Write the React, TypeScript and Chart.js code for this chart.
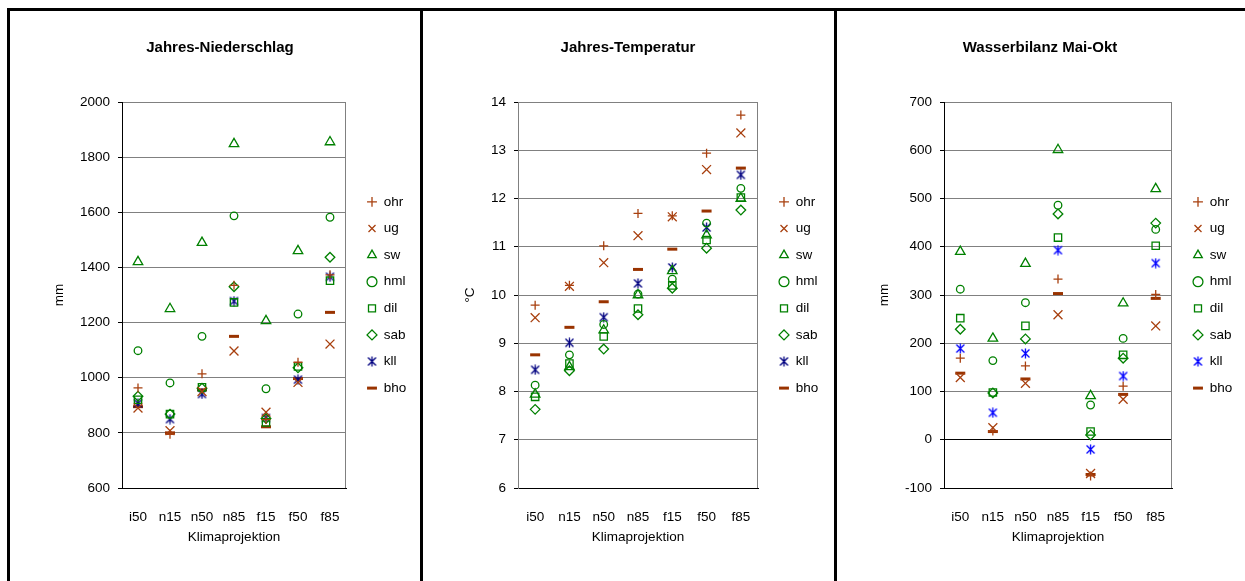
import React, { useEffect, useRef } from 'react';
import { Chart, registerables } from 'chart.js';

Chart.register(...registerables);

// ---------- data ----------
const categories = ['i50', 'n15', 'n50', 'n85', 'f15', 'f50', 'f85'];
const seriesLabels = ['ohr', 'ug', 'sw', 'hml', 'dil', 'sab', 'kll', 'bho'];

// Jahres-Niederschlag (mm)
const precipOhr = [963, 795, 1014, 1335, 848, 1056, 1373];
const precipUg = [890, 808, 950, 1097, 875, 983, 1122];
const precipSw = [1420, 1250, 1490, 1848, 1206, 1460, 1855];
const precipHml = [1098, 981, 1150, 1587, 960, 1231, 1582];
const precipDil = [920, 868, 965, 1273, 838, 1041, 1352];
const precipSab = [933, 868, 962, 1330, 852, 1036, 1437];
const precipKll = [907, 850, 941, 1278, 854, 993, 1366];
const precipBho = [895, 800, 956, 1150, 822, 997, 1237];

// Jahres-Temperatur (°C)
const tempOhr = [9.79, 10.2, 11.02, 11.69, 11.64, 12.94, 13.73];
const tempUg = [9.53, 10.18, 10.67, 11.23, 11.62, 12.6, 13.36];
const tempSw = [7.94, 8.51, 9.27, 10.0, 10.5, 11.24, 12.0];
const tempHml = [8.13, 8.76, 9.39, 10.02, 10.33, 11.49, 12.21];
const tempDil = [7.89, 8.58, 9.14, 9.72, 10.2, 11.14, 12.02];
const tempSab = [7.63, 8.43, 8.88, 9.59, 10.14, 10.97, 11.76];
const tempKll = [8.45, 9.01, 9.54, 10.24, 10.57, 11.4, 12.49];
const tempBho = [8.76, 9.33, 9.86, 10.53, 10.95, 11.74, 12.63];

// Wasserbilanz Mai-Okt (mm)
const waterOhr = [169, 18, 153, 333, -75, 111, 301];
const waterUg = [129, 25, 117, 259, -70, 84, 236];
const waterSw = [390, 210, 365, 601, 91, 283, 520];
const waterHml = [312, 164, 284, 486, 72, 210, 436];
const waterDil = [252, 98, 236, 419, 17, 176, 402];
const waterSab = [229, 97, 209, 468, 10, 169, 449];
const waterKll = [189, 56, 179, 393, -20, 132, 366];
const waterBho = [138, 17, 126, 303, -72, 94, 293];

// axis ranges
const precipAxis = { min: 600, max: 2000, step: 200 };
const tempAxis = { min: 6, max: 14, step: 1 };
const waterAxis = { min: -100, max: 700, step: 100 };

// ---------- styles / layout ----------
const FONT = "'Liberation Sans', Arial, Helvetica, sans-serif";
const TICK_SIZE = 13.5;
const TITLE_SIZE = 15;
const LH = 1.2;
const BROWN = '#A8400F';
const DARK_BROWN = '#993300';
const GREEN = '#008000';
const GRID = '#808080';

const PAGE_W = 1245;
const PAGE_H = 581;
const CANVAS_TOP = 11;
const CANVAS_H = PAGE_H - CANVAS_TOP;
const PLOT_TOP = 102;
const PLOT_BOTTOM = 488;
const TITLE_Y = 48;
const XLABEL_Y = 517;
const XTITLE_Y = 537;
const LEGEND_PAD = 13.1;
const LEGEND_GAP = 21;

Chart.defaults.font.family = FONT;
Chart.defaults.font.size = TICK_SIZE;
Chart.defaults.color = '#000';

type PanelSpec = {
  left: number;
  width: number;
  title: string;
  yTitle: string;
  axis: { min: number; max: number; step: number };
  series: number[][];
  kllColor: string;
  yAxisColor: string;
  plotLeft: number;
  plotRight: number;
  titleCenter: number;
  yTitleCenter: number;
  zeroLine: boolean;
};

const panels: PanelSpec[] = [
  {
    left: 10, width: 410, title: 'Jahres-Niederschlag', yTitle: 'mm', axis: precipAxis,
    series: [precipOhr, precipUg, precipSw, precipHml, precipDil, precipSab, precipKll, precipBho],
    kllColor: '#000080', yAxisColor: '#000', plotLeft: 122, plotRight: 346, titleCenter: 220, yTitleCenter: 59, zeroLine: false,
  },
  {
    left: 423, width: 411, title: 'Jahres-Temperatur', yTitle: '°C', axis: tempAxis,
    series: [tempOhr, tempUg, tempSw, tempHml, tempDil, tempSab, tempKll, tempBho],
    kllColor: '#000080', yAxisColor: '#808080', plotLeft: 518, plotRight: 758, titleCenter: 628, yTitleCenter: 470, zeroLine: false,
  },
  {
    left: 837, width: 408, title: 'Wasserbilanz Mai-Okt', yTitle: 'mm', axis: waterAxis,
    series: [waterOhr, waterUg, waterSw, waterHml, waterDil, waterSab, waterKll, waterBho],
    kllColor: '#0000FF', yAxisColor: '#000', plotLeft: 944, plotRight: 1172, titleCenter: 1040, yTitleCenter: 884, zeroLine: true,
  },
];

function makeAsterisk(color: string): HTMLCanvasElement {
  const c = document.createElement('canvas');
  c.width = 11;
  c.height = 11;
  const g = c.getContext('2d')!;
  g.strokeStyle = color;
  g.lineWidth = 1.3;
  g.beginPath();
  g.moveTo(5.5, 0.5); g.lineTo(5.5, 10.5);
  g.moveTo(1.5, 1.5); g.lineTo(9.5, 9.5);
  g.moveTo(9.5, 1.5); g.lineTo(1.5, 9.5);
  g.stroke();
  return c;
}

function buildConfig(spec: PanelSpec): any {
  const W = spec.width;
  const lhT = TICK_SIZE * LH;
  const lhTitle = TITLE_SIZE * LH;
  const padR = 10;
  const tc = spec.titleCenter - spec.left;
  const plotLeft = spec.plotLeft - spec.left;
  const plotRight = spec.plotRight - spec.left;
  const padL = 2 * tc - (W - padR);
  const legendW = W - padR - plotRight;
  const yWidth = plotLeft - padL;
  const yTitlePad = spec.yTitleCenter - spec.left - padL - lhT / 2;

  const top = PLOT_TOP - CANVAS_TOP;
  const bottom = PLOT_BOTTOM - CANVAS_TOP;
  const titleY = TITLE_Y - CANVAS_TOP;
  const xLabelY = XLABEL_Y - CANVAS_TOP;
  const xTitleY = XTITLE_Y - CANVAS_TOP;
  const xTickPad = xLabelY - bottom - lhT / 2;
  const xTitlePad = xTitleY - lhT / 2 - (bottom + xTickPad + lhT);
  const xHeight = xTitleY + lhT / 2 - bottom;
  const padB = CANVAS_H - bottom - xHeight;

  const styles = [
    { ps: 'cross', r: 4.5, bw: 1.3, c: BROWN },
    { ps: 'crossRot', r: 6.3, bw: 1.3, c: BROWN },
    { ps: 'triangle', r: 5.5, bw: 1.3, c: GREEN },
    { ps: 'circle', r: 3.8, bw: 1.3, c: GREEN },
    { ps: 'rect', r: 5.2, bw: 1.3, c: GREEN },
    { ps: 'rectRot', r: 4.8, bw: 1.3, c: GREEN },
    { ps: makeAsterisk(spec.kllColor), r: 5.5, bw: 1.3, c: spec.kllColor },
    { ps: 'line', r: 5, bw: 3, c: DARK_BROWN },
  ];

  const datasets = spec.series.map((data, i) => ({
    label: seriesLabels[i],
    data,
    showLine: false,
    pointStyle: styles[i].ps,
    pointRadius: styles[i].r,
    pointHoverRadius: styles[i].r,
    pointBorderWidth: styles[i].bw,
    pointBorderColor: styles[i].c,
    pointBackgroundColor: 'rgba(0,0,0,0)',
    borderColor: styles[i].c,
    backgroundColor: 'rgba(0,0,0,0)',
  }));

  const fixLegend = {
    id: 'fixLegend',
    beforeLayout(chart: any) {
      const lg = chart.legend;
      if (lg && !lg.__patched) {
        const orig = lg.fit.bind(lg);
        lg.fit = function () {
          orig();
          this.width = legendW;
        };
        lg.__patched = true;
      }
    },
    afterLayout(chart: any) {
      const lg = chart.legend;
      if (lg) {
        const shift = LEGEND_GAP - LEGEND_PAD;
        lg.left = chart.chartArea.right + shift;
        lg.right = lg.left + legendW;
        lg.top = chart.chartArea.top;
        lg.bottom = chart.chartArea.bottom;
        lg.height = lg.bottom - lg.top;
      }
    },
  };

  const frame = {
    id: 'frame',
    beforeDatasetsDraw(chart: any) {
      const { ctx, chartArea } = chart;
      ctx.save();
      ctx.strokeStyle = GRID;
      ctx.lineWidth = 1;
      const x = Math.round(chartArea.right) - 0.5;
      ctx.beginPath();
      ctx.moveTo(x, chartArea.top);
      ctx.lineTo(x, chartArea.bottom);
      ctx.stroke();
      ctx.restore();
    },
  };

  return {
    type: 'line',
    data: { labels: categories, datasets },
    plugins: [fixLegend, frame],
    options: {
      responsive: false,
      animation: false,
      devicePixelRatio: 1,
      layout: { padding: { left: padL, right: padR, top: 0, bottom: padB } },
      plugins: {
        tooltip: { enabled: false },
        title: {
          display: true,
          text: spec.title,
          color: '#000',
          font: { size: TITLE_SIZE, weight: 'bold', family: FONT },
          padding: { top: titleY - lhTitle / 2, bottom: top - titleY - lhTitle / 2 },
        },
        legend: {
          display: true,
          position: 'right',
          align: 'center',
          labels: {
            usePointStyle: true,
            boxWidth: 10,
            boxHeight: 7,
            padding: LEGEND_PAD,
            color: '#000',
            font: { size: TICK_SIZE, family: FONT },
          },
        },
      },
      scales: {
        x: {
          type: 'category',
          offset: true,
          grid: { display: false, drawTicks: false },
          border: { display: true, color: '#000', width: 1 },
          ticks: { padding: xTickPad, autoSkip: false, maxRotation: 0, color: '#000', font: { size: TICK_SIZE } },
          title: { display: true, text: 'Klimaprojektion', color: '#000', font: { size: TICK_SIZE }, padding: { top: xTitlePad, bottom: 0 } },
          afterFit: (s: any) => { s.height = xHeight; },
        },
        y: {
          type: 'linear',
          min: spec.axis.min,
          max: spec.axis.max,
          ticks: {
            stepSize: spec.axis.step,
            padding: 8,
            color: '#000',
            font: { size: TICK_SIZE },
            callback: (v: any) => String(v),
          },
          grid: {
            color: (ctx: any) => (spec.zeroLine && ctx.tick && ctx.tick.value === 0 ? '#000' : GRID),
            tickColor: '#000',
            tickLength: 4,
            drawTicks: true,
            lineWidth: 1,
          },
          border: { display: true, color: spec.yAxisColor, width: 1 },
          title: { display: true, text: spec.yTitle, color: '#000', font: { size: TICK_SIZE }, padding: { top: yTitlePad, bottom: 0 } },
          afterFit: (s: any) => { s.width = yWidth; },
        },
      },
    },
  };
}

function ChartPanel({ spec }: { spec: PanelSpec }) {
  const ref = useRef<HTMLCanvasElement>(null);
  useEffect(() => {
    const canvas = ref.current;
    if (!canvas) return;
    const chart = new Chart(canvas, buildConfig(spec));
    return () => chart.destroy();
  }, [spec]);
  return (
    <canvas
      ref={ref}
      width={spec.width}
      height={CANVAS_H}
      style={{ position: 'absolute', left: spec.left, top: CANVAS_TOP, width: spec.width, height: CANVAS_H }}
    />
  );
}

export default function App() {
  const line = (l: number, t: number, w: number, h: number) => (
    <div style={{ position: 'absolute', left: l, top: t, width: w, height: h, background: '#000' }} />
  );
  return (
    <div style={{ position: 'absolute', left: 0, top: 0, width: PAGE_W, height: PAGE_H, background: '#fff', overflow: 'hidden' }}>
      {panels.map((p) => (
        <ChartPanel key={p.title} spec={p} />
      ))}
      {line(7, 8, PAGE_W - 7, 3)}
      {line(7, 8, 3, PAGE_H - 8)}
      {line(420, 8, 3, PAGE_H - 8)}
      {line(834, 8, 3, PAGE_H - 8)}
    </div>
  );
}
